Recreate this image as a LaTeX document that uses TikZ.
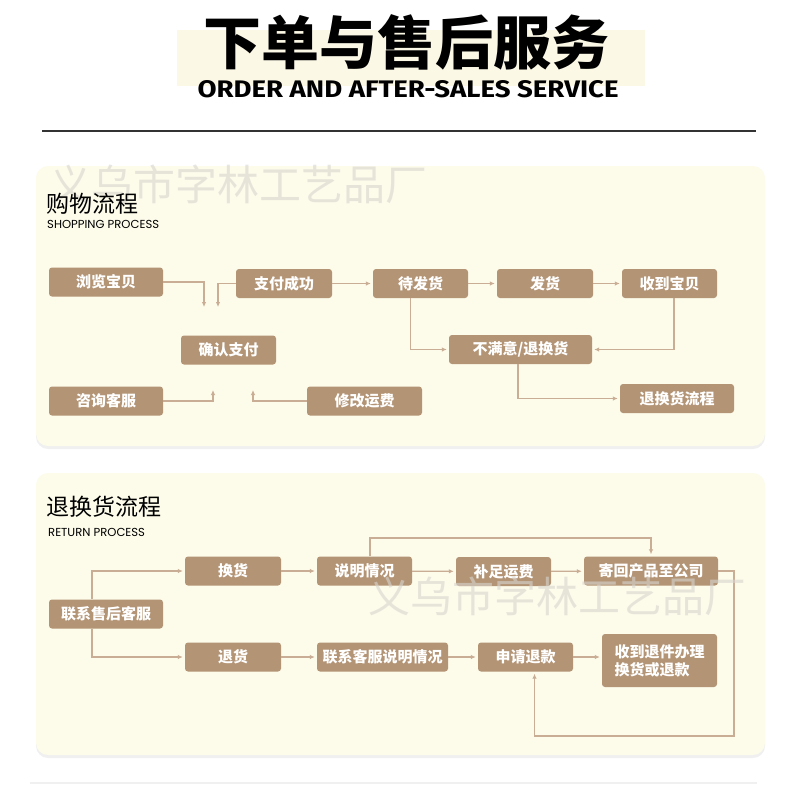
\documentclass[tikz,border=0pt]{standalone}
\usepackage{fontspec}
\usepackage{graphicx}
\usetikzlibrary{arrows.meta, shadows}
\newfontfamily\cjk{Noto Sans CJK SC}
\newfontfamily\popfont{Poppins}
\newfontfamily\firafont{Fira Sans}
\definecolor{paper}{HTML}{FDFBEA}
\definecolor{hilite}{HTML}{FBF8E6}
\definecolor{boxbrown}{HTML}{B39475}
\definecolor{flowtan}{HTML}{C9AD94}
\definecolor{rulegray}{HTML}{333333}
\definecolor{wmgray}{HTML}{D8D6CF}

\begin{document}
\begin{tikzpicture}[x=1pt, y=-1pt,
    panel/.style={fill=paper, rounded corners=12pt,
        drop shadow={opacity=0.12, shadow xshift=0pt, shadow yshift=-3pt}},
    box/.style={fill=boxbrown, rounded corners=3pt, text=white, inner sep=0pt,
        minimum height=29pt, font=\cjk\bfseries\fontsize{15}{18}\selectfont},
    flow/.style={draw=flowtan, line width=1.3pt, shorten >=2pt,
        -{Latex[length=5pt,width=4.5pt]}},
    wmark/.style={text=wmgray, opacity=0.6, inner sep=0pt,
        font=\cjk\fontsize{42}{44}\selectfont}]
    \useasboundingbox (0,0) rectangle (790,806);

    % title
    \fill[hilite] (177,30) rectangle (645,86);
    \node[font=\cjk\bfseries\fontsize{58}{60}\selectfont, inner sep=0pt] (title) at (406,42)
        {下单与售后服务};
    \node[font=\firafont\bfseries, inner sep=0pt] (subtitle) at (408,89.5)
        {\resizebox{421pt}{17pt}{ORDER AND AFTER-SALES SERVICE}};
    \draw[line width=2pt, draw=rulegray] (42,131) -- (756,131);

    \path[panel] (36,166) rectangle (765,446);
    \path[panel] (36,473) rectangle (765,755);
    \draw[draw=black!6, line width=1.5pt] (30,783) -- (757,783);

    \node[wmark] (wm1) at (238,184) {义乌市字林工艺品厂};

    % shopping process
    \node[anchor=west, inner sep=0pt, font=\cjk\fontsize{23}{25}\selectfont] (shopT) at (46,204) {购物流程};
    \node[anchor=west, inner sep=0pt, font=\popfont\fontsize{11.6}{13}\selectfont] (shopE) at (47,224) {SHOPPING PROCESS};

    \node[box, minimum width=114pt] (browse) at (106,282) {浏览宝贝};
    \node[box, minimum width=96pt] (paid) at (284,283.5) {支付成功};
    \node[box, minimum width=95pt] (pending) at (420.5,283.5) {待发货};
    \node[box, minimum width=96pt] (shipped) at (545,283.5) {发货};
    \node[box, minimum width=95pt] (received) at (669.5,283.5) {收到宝贝};
    \node[box, minimum width=95pt] (confirm) at (228.5,350) {确认支付};
    \node[box, minimum width=143pt] (unhappy) at (520.5,349.5) {不满意/退换货};
    \node[box, minimum width=114pt] (consult) at (106,401) {咨询客服};
    \node[box, minimum width=115pt] (fee) at (364.5,401) {修改运费};
    \node[box, minimum width=114pt] (retflow) at (677,398.5) {退换货流程};

    \coordinate (inL) at (204,309);
    \coordinate (inR) at (218,309);
    \coordinate (upL) at (213,388);
    \coordinate (upR) at (253,388);
    \draw[flow] (browse.east) -| (inL);
    \draw[flow] (paid.west) -| (inR);
    \draw[flow] (consult.east) -| (upL);
    \draw[flow] (fee.west) -| (upR);
    \draw[flow] (paid) -- (pending);
    \draw[flow] (pending) -- (shipped);
    \draw[flow] (shipped) -- (received);
    \draw[flow] ([xshift=-10pt]pending.south) |- (unhappy.west);
    \draw[flow] ([xshift=4.5pt]received.south) |- (unhappy.east);
    \draw[flow] ([xshift=-2.5pt]unhappy.south) |- (retflow.west);

    % return process
    \node[anchor=west, inner sep=0pt, font=\cjk\fontsize{23}{25}\selectfont] (retT) at (46,507) {退换货流程};
    \node[anchor=west, inner sep=0pt, font=\popfont\fontsize{11.6}{13}\selectfont] (retE) at (48,532) {RETURN PROCESS};

    \node[box, minimum width=96pt] (exch) at (233,571) {换货};
    \node[box, minimum width=95pt] (explain) at (364.5,571) {说明情况};
    \node[box, minimum width=95pt] (topup) at (503.5,571.5) {补足运费};
    \node[box, minimum width=134pt] (sendback) at (651,571) {寄回产品至公司};
    \node[box, minimum width=114pt] (aftersale) at (106,614) {联系售后客服};
    \node[box, minimum width=96pt] (refund) at (233,657) {退货};
    \node[box, minimum width=131pt] (explain2) at (382.5,657) {联系客服说明情况};
    \node[box, minimum width=95pt] (apply) at (525.5,657) {申请退款};
    \node[box, minimum width=115pt, minimum height=53pt, align=left] (handle) at (659.5,660.5)
        {收到退件办理\\换货或退款};

    \coordinate (loopT) at (651,538);
    \coordinate (loopR) at (734,736);
    \draw[flow] ([xshift=-14pt]aftersale.north) |- (exch.west);
    \draw[flow] ([xshift=-14pt]aftersale.south) |- (refund.west);
    \draw[flow] (exch) -- (explain);
    \draw[flow] (explain) -- (topup);
    \draw[flow] (topup) -- (sendback);
    \draw[flow] ([xshift=5.5pt]explain.north) |- (loopT) -- (sendback.north);
    \draw[flow] (sendback.east) -| (loopR) -| ([xshift=9pt]apply.south);
    \draw[flow] (refund) -- (explain2);
    \draw[flow] (explain2) -- (apply);
    \draw[flow] (apply.east) -- (apply.east -| handle.west);

    \node[wmark] (wm2) at (557,596) {义乌市字林工艺品厂};
\end{tikzpicture}
\end{document}
